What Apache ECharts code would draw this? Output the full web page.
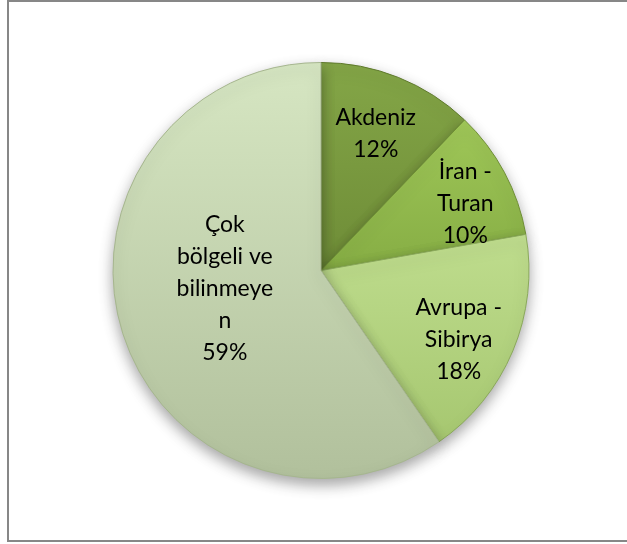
<!DOCTYPE html>
<html>
<head>
<meta charset="utf-8">
<script src="https://cdn.jsdelivr.net/npm/echarts@6/dist/echarts.min.js"></script>
<style>
html,body{margin:0;padding:0;background:#fff;}
#chart{width:627px;height:544px;}
</style>
</head>
<body>
<div id="chart"></div>
<script>
// Data
const categories = ['Akdeniz', 'İran - Turan', 'Avrupa - Sibirya', 'Çok bölgeli ve bilinmeyen'];
const labelTexts = ['Akdeniz', 'İran -\nTuran', 'Avrupa -\nSibirya', 'Çok\nbölgeli ve\nbilinmeye\nn'];
const percents = [12, 10, 18, 59];

// Styling
const sliceColors = [
  ['#84a647', '#6e8c37'],
  ['#9fc758', '#86ad44'],
  ['#bfdd8e', '#a6c770'],
  ['#d6e6c2', '#b1c09c']
];
const borderColors = ['#5f7a2c', '#6f8f35', '#8aa95a', '#a6b68f'];
const labelOffsets = [[15, -38], [50, -16], [39, 28], [6, -14]];

const chart = echarts.init(document.getElementById('chart'), null, {renderer: 'canvas'});

const data = categories.map((name, i) => ({
  name: name,
  value: percents[i],
  itemStyle: {
    color: {
      type: 'linear', x: 0, y: 0, x2: 0, y2: 1,
      colorStops: [{offset: 0, color: sliceColors[i][0]}, {offset: 1, color: sliceColors[i][1]}]
    },
    borderColor: borderColors[i]
  }
}));

chart.setOption({
  animation: false,
  backgroundColor: '#ffffff',
  graphic: [{
    type: 'rect',
    shape: {x: 8, y: 1, width: 640, height: 540},
    style: {fill: 'none', stroke: '#878787', lineWidth: 2},
    silent: true,
    z: 100
  }],
  series: [{
    type: 'pie',
    center: [321, 270.5],
    radius: [0, 208],
    startAngle: 90,
    clockwise: true,
    data: data,
    itemStyle: {
      borderWidth: 1,
      shadowBlur: 14,
      shadowOffsetY: 6,
      shadowColor: 'rgba(0,0,0,0.35)'
    },
    label: {
      show: true,
      position: 'inside',
      color: '#000',
      fontFamily: 'Lato, "Open Sans", sans-serif',
      fontSize: 23,
      lineHeight: 32,
      align: 'center',
      formatter: p => labelTexts[p.dataIndex] + '\n' + p.value + '%'
    },
    labelLine: {show: false},
    labelLayout: p => ({dx: labelOffsets[p.dataIndex][0], dy: labelOffsets[p.dataIndex][1]}),
    emphasis: {disabled: true}
  }]
});
</script>
</body>
</html>
